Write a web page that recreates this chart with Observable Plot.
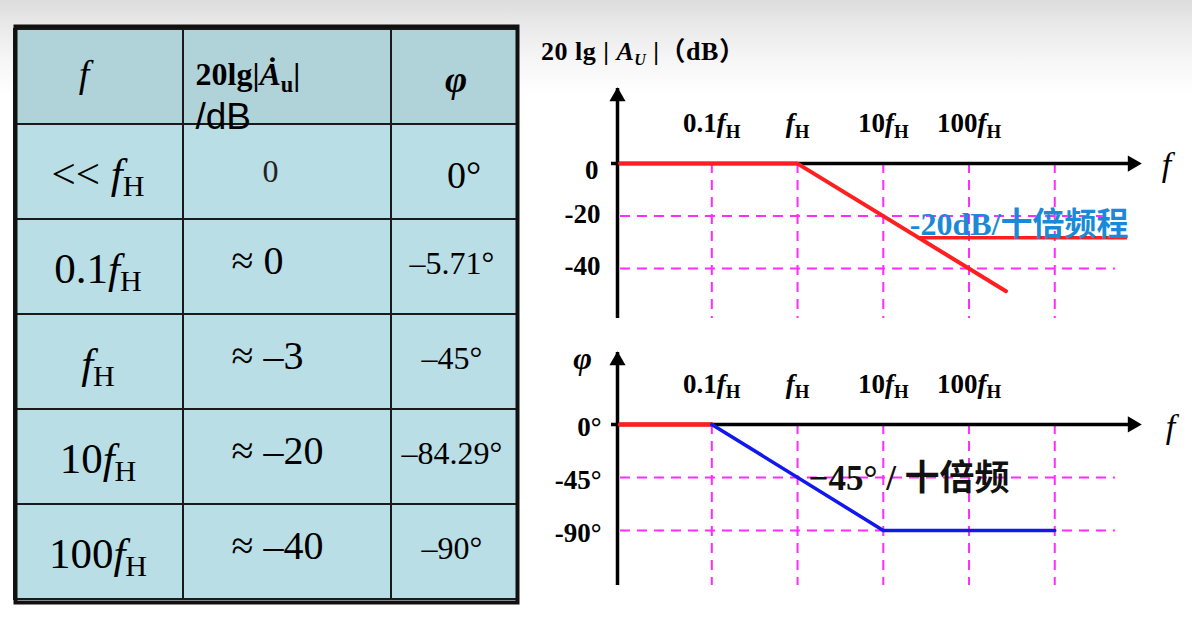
<!DOCTYPE html>
<html><head><meta charset="utf-8">
<script src="https://cdn.jsdelivr.net/npm/d3@7"></script>
<script src="https://cdn.jsdelivr.net/npm/@observablehq/plot@0.6"></script>
<style>
html,body{margin:0;padding:0;}
body{width:1192px;height:638px;overflow:hidden;background:linear-gradient(#dcdcdc 0px,#e8e8e8 22px,#f6f6f6 60px,#ffffff 95px);}
#wrap{position:relative;width:1192px;height:638px;}
#wrap svg{max-width:none !important;display:block;}
.title{position:absolute;left:541px;top:39px;font:bold 26px/26px "Liberation Serif","Noto Sans CJK SC",serif;color:#000;white-space:nowrap;letter-spacing:0.5px;}
.title sub{font-size:16px;vertical-align:-5px;line-height:0;}
</style></head>
<body><div id="wrap"><div class="title">20 lg | <i>A</i><sub><i>U</i></sub> |（dB）</div></div>
<script>
// ---------------- data ----------------
const tableHeader = ["[i:f]", "20lg|[i:Ȧ][sub:u]|", "[i:φ]"];
const tableHeaderUnit = "/dB";
const tableFreq = ["<< [i:f][sub:H]", "0.1[i:f][sub:H]", "[i:f][sub:H]", "10[i:f][sub:H]", "100[i:f][sub:H]"];
const tableGain = ["0", "≈ 0", "≈ –3", "≈ –20", "≈ –40"];
const tablePhase = ["0°", "–5.71°", "–45°", "–84.29°", "–90°"];

const freqGrid = [0.1, 1, 10, 100, 1000];            // multiples of fH
const freqTickLabels = ["0.1[i:f][sub:H]", "[i:f][sub:H]", "10[i:f][sub:H]", "100[i:f][sub:H]"];
const gainTicks = [0, -20, -40];
const gainTickLabels = ["0", "-20", "-40"];
const gainAsymFreq = [0.0085, 1, 270];
const gainAsymDb = [0, 0, -48.6];
const gainSlopeLabel = "-20dB/十倍频程";
const phaseTicks = [0, -45, -90];
const phaseTickLabels = ["0°", "-45°", "-90°"];
const phaseFlatFreq = [0.0085, 0.1];
const phaseFlatDeg = [0, 0];
const phaseSlopeFreq = [0.1, 10, 1000];
const phaseSlopeDeg = [0, -90, -90];
const phaseSlopeLabel = "−45° / 十倍频";

// ---------------- style / layout ----------------
const SERIF = "'Liberation Serif','Times New Roman','Noto Sans CJK SC',serif";
const SANS = "'Liberation Sans',Arial,sans-serif";
const MAG = "#ff2bff", RED = "#ff1f1f", BLUE = "#1018ee", SKY = "#1a8ad8";
const HEAD_FILL = "#b0d3da", BODY_FILL = "#b9dee5";
const fMin = 10 ** -2.1, fMax = 1e4, gridStart = 0.0086, gridEnd = 5100;
const DASH = "10,7";

const W = document.getElementById("wrap");
const SVGNS = "http://www.w3.org/2000/svg";
function richify(root) {
  root.querySelectorAll("text").forEach(t => {
    const s = t.textContent;
    if (!/\[(i|sub):/.test(s)) return;
    const fs = parseFloat(getComputedStyle(t).fontSize) || 16;
    while (t.firstChild) t.removeChild(t.firstChild);
    const re = /\[(i|sub):([^\]]*)\]|([^\[]+)/g;
    let m, shifted = false;
    while ((m = re.exec(s))) {
      const ts = document.createElementNS(SVGNS, "tspan");
      if (m[3] !== undefined) ts.textContent = m[3];
      else {
        ts.textContent = m[2];
        if (m[1] === "i") ts.setAttribute("font-style", "italic");
      }
      if (m[1] === "sub") {
        ts.setAttribute("font-size", (0.7 * fs).toFixed(1));
        ts.setAttribute("dy", (0.2 * fs).toFixed(1));
        ts.setAttribute("font-style", "normal");
        shifted = true;
      } else if (shifted) {
        ts.setAttribute("dy", (-0.2 * fs).toFixed(1));
        shifted = false;
      }
      t.appendChild(ts);
    }
  });
}
function place(node, left, top) {
  const d = document.createElement("div");
  const w = node.getAttribute("width"), h = node.getAttribute("height");
  d.style.cssText = `position:absolute;left:${left}px;top:${top}px;width:${w}px;height:${h}px;`;
  node.style.width = w + "px";
  node.style.height = h + "px";
  d.appendChild(node);
  W.appendChild(d);
  richify(node);
}

// ---------------- table (one Plot per column) ----------------
const TABLE_LEFT = 14, TABLE_TOP = 25, TABLE_H = 578;
const colWidths = [169, 208, 127];
const rowIdx = [0, 1, 2, 3, 4, 5];
function tableColumn(ci, textMarks) {
  const name = "c" + ci;
  const cells = rowIdx.map(r => ({r, fill: r === 0 ? HEAD_FILL : BODY_FILL}));
  return Plot.plot({
    width: colWidths[ci], height: TABLE_H, margin: 0,
    style: {background: "transparent", overflow: "visible"},
    x: {type: "band", domain: [name], padding: 0, axis: null},
    y: {type: "band", domain: rowIdx, range: [1.5, TABLE_H - 1.5], padding: 0, axis: null},
    color: {type: "identity"},
    marks: [
      Plot.cell(cells, {x: () => name, y: "r", fill: "fill", stroke: "#1a1a1a", strokeWidth: 2}),
      ...textMarks(name)
    ]
  });
}
const col0 = tableColumn(0, name => [
  Plot.text([tableHeader[0]], {x: () => name, y: () => 0, text: d => d, dx: -15, dy: -2, fontSize: 38, fontFamily: SERIF}),
  Plot.text(tableFreq, {x: () => name, y: (d, i) => i + 1, text: d => d, dx: -1, dy: 2, fontSize: 43, fontFamily: SERIF})
]);
const col1 = tableColumn(1, name => [
  Plot.text([tableHeader[1]], {x: () => name, y: () => 0, text: d => d, textAnchor: "start", dx: -92, dy: -2, fontSize: 32, fontWeight: "bold", fontFamily: SERIF}),
  Plot.text([tableHeaderUnit], {x: () => name, y: () => 0, text: d => d, textAnchor: "start", dx: -92, dy: 40, fontSize: 37, fontFamily: SANS}),
  Plot.text(tableGain.slice(0, 1), {x: () => name, y: () => 1, text: d => d, dx: -17, dy: 0, fontSize: 32, fill: "#222", fontFamily: SERIF}),
  Plot.text(tableGain.slice(1), {x: () => name, y: (d, i) => i + 2, text: d => d, textAnchor: "start", dx: -56, dy: -6, fontSize: 40, fontFamily: SERIF})
]);
const col2 = tableColumn(2, name => [
  Plot.text([tableHeader[2]], {x: () => name, y: () => 0, text: d => d, dx: 1, dy: 3, fontSize: 38, fontWeight: "bold", fontFamily: SERIF}),
  Plot.text(tablePhase.slice(0, 1), {x: () => name, y: () => 1, text: d => d, dx: 9, dy: 4, fontSize: 38, fontFamily: SERIF}),
  Plot.text(tablePhase.slice(1), {x: () => name, y: (d, i) => i + 2, text: d => d, dx: -3, dy: -3, fontSize: 32, fontFamily: SERIF})
]);
place(col0, TABLE_LEFT, TABLE_TOP);
place(col1, TABLE_LEFT + colWidths[0], TABLE_TOP);
place(col2, TABLE_LEFT + colWidths[0] + colWidths[1], TABLE_TOP);
const frame = Plot.plot({
  width: d3.sum(colWidths), height: TABLE_H, margin: 0,
  style: {background: "transparent", overflow: "visible"},
  marks: [Plot.frame({stroke: "#111", strokeWidth: 4, inset: 1})]
});
place(frame, TABLE_LEFT, TABLE_TOP);

// ---------------- gain plot ----------------
const gainDomain = [-59, 28.6];
const gainData = gainAsymFreq.map((f, i) => ({f, v: gainAsymDb[i]}));
const gainPlot = Plot.plot({
  width: 662, height: 300, marginLeft: 87, marginRight: 52, marginTop: 58, marginBottom: 12,
  style: {background: "transparent", overflow: "visible"},
  x: {type: "log", domain: [fMin, fMax], axis: null},
  y: {domain: gainDomain, axis: null},
  marks: [
    Plot.ruleX(freqGrid, {y1: 0, y2: gainDomain[0], stroke: MAG, strokeWidth: 2, strokeDasharray: DASH}),
    Plot.ruleY(gainTicks.slice(1), {x1: gridStart, x2: gridEnd, stroke: MAG, strokeWidth: 2, strokeDasharray: DASH}),
    Plot.ruleY([0], {x1: fMin, x2: fMax, stroke: "#000", strokeWidth: 3.5, dx: -6}),
    Plot.ruleX([fMin], {y1: gainDomain[0], y2: gainDomain[1], stroke: "#000", strokeWidth: 3.5}),
    Plot.dot([fMax], {x: d => d, y: 0, symbol: "triangle", r: 6, fill: "#000", stroke: "none", rotate: 90, dx: -8}),
    Plot.dot([gainDomain[1]], {x: fMin, y: d => d, symbol: "triangle", r: 6, fill: "#000", stroke: "none", dy: 8}),
    Plot.line(gainData, {x: "f", y: "v", stroke: RED, strokeWidth: 4}),
    Plot.ruleY([-28.2], {x1: 25.5, x2: 7080, stroke: RED, strokeWidth: 3.5}),
    Plot.text([gainSlopeLabel], {x: 20.4, y: -23.2, text: d => d, textAnchor: "start", fill: SKY, fontSize: 32, fontWeight: "bold", fontFamily: SERIF}),
    Plot.text(gainTicks.slice(0, 1), {x: fMin, y: d => d, text: (d, i) => gainTickLabels[i], textAnchor: "end", dx: -19, dy: 7, fontSize: 27, fontWeight: "bold", fontFamily: SERIF}),
    Plot.text(gainTicks.slice(1), {x: fMin, y: d => d, text: (d, i) => gainTickLabels[i + 1], textAnchor: "end", dx: -17, dy: -2, fontSize: 27, fontWeight: "bold", fontFamily: SERIF}),
    Plot.text(freqGrid.slice(0, 4), {x: d => d, y: 0, text: (d, i) => freqTickLabels[i], dy: -40, fontSize: 27, fontWeight: "bold", fontFamily: SERIF}),
    Plot.text(["f"], {x: fMax, y: 0, text: d => d, dx: 26, dy: 2, fontSize: 34, fontStyle: "italic", fontFamily: SERIF})
  ]
});
place(gainPlot, 530, 30);

// ---------------- phase plot ----------------
const phaseDomain = [-136.7, 61];
const phaseFlat = phaseFlatFreq.map((f, i) => ({f, v: phaseFlatDeg[i]}));
const phaseSlope = phaseSlopeFreq.map((f, i) => ({f, v: phaseSlopeDeg[i]}));
const phasePlot = Plot.plot({
  width: 662, height: 270, marginLeft: 87, marginRight: 52, marginTop: 22, marginBottom: 15,
  style: {background: "transparent", overflow: "visible"},
  x: {type: "log", domain: [fMin, fMax], axis: null},
  y: {domain: phaseDomain, axis: null},
  marks: [
    Plot.ruleX(freqGrid, {y1: 0, y2: phaseDomain[0], stroke: MAG, strokeWidth: 2, strokeDasharray: DASH}),
    Plot.ruleY(phaseTicks.slice(1), {x1: gridStart, x2: gridEnd, stroke: MAG, strokeWidth: 2, strokeDasharray: DASH}),
    Plot.ruleY([0], {x1: fMin, x2: fMax, stroke: "#000", strokeWidth: 3.5, dx: -6}),
    Plot.ruleX([fMin], {y1: phaseDomain[0], y2: phaseDomain[1], stroke: "#000", strokeWidth: 3.5}),
    Plot.dot([fMax], {x: d => d, y: 0, symbol: "triangle", r: 6, fill: "#000", stroke: "none", rotate: 90, dx: -8}),
    Plot.dot([phaseDomain[1]], {x: fMin, y: d => d, symbol: "triangle", r: 6, fill: "#000", stroke: "none", dy: 8}),
    Plot.line(phaseFlat, {x: "f", y: "v", stroke: RED, strokeWidth: 4.5}),
    Plot.line(phaseSlope, {x: "f", y: "v", stroke: BLUE, strokeWidth: 3.5}),
    Plot.text([phaseSlopeLabel], {x: 1.34, y: -45.8, text: d => d, textAnchor: "start", fill: "#111", fontSize: 35, fontWeight: "bold", fontFamily: SERIF}),
    Plot.text(phaseTicks, {x: fMin, y: d => d, text: (d, i) => phaseTickLabels[i], textAnchor: "end", dx: -16, dy: 3, fontSize: 27, fontWeight: "bold", fontFamily: SERIF}),
    Plot.text(freqGrid.slice(0, 4), {x: d => d, y: 0, text: (d, i) => freqTickLabels[i], dy: -40, fontSize: 27, fontWeight: "bold", fontFamily: SERIF}),
    Plot.text(["f"], {x: fMax, y: 0, text: d => d, dx: 30, dy: 3, fontSize: 34, fontStyle: "italic", fontFamily: SERIF}),
    Plot.text(["φ"], {x: fMin, y: phaseDomain[1], text: d => d, dx: -35, dy: 6, fontSize: 32, fontStyle: "italic", fontWeight: "bold", fontFamily: SERIF})
  ]
});
place(phasePlot, 530, 330);
</script></body></html>
